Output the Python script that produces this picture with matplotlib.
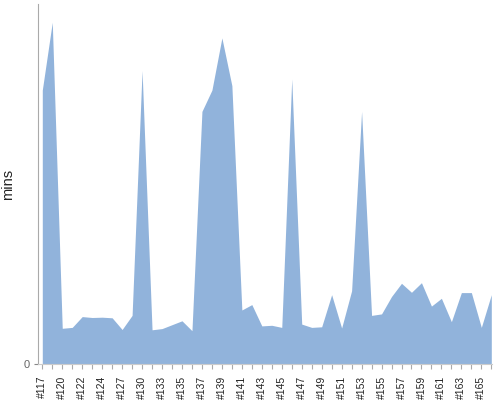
import matplotlib
matplotlib.use("Agg")
import matplotlib.pyplot as plt

# build ids shown on the x axis (only every other one gets a label)
builds = ["#117", "#118", "#120", "#121", "#122", "#123", "#124", "#126",
          "#127", "#128", "#130", "#131", "#133", "#134", "#135", "#136",
          "#137", "#138", "#139", "#140", "#141", "#142", "#143", "#144",
          "#145", "#146", "#147", "#148", "#149", "#150", "#151", "#152",
          "#153", "#154", "#155", "#156", "#157", "#158", "#159", "#160",
          "#161", "#162", "#163", "#164", "#165", "#166"]

# build duration, minutes
mins = [91.3, 113.9, 11.9, 12.2, 15.8, 15.5, 15.6, 15.4, 11.5, 16.2,
        97.8, 11.4, 11.8, 13.1, 14.4, 11.1, 84.2, 91.3, 108.7, 92.8,
        18.0, 19.8, 12.7, 12.9, 12.2, 95.0, 13.3, 12.2, 12.4, 23.1,
        12.0, 24.4, 84.2, 16.2, 16.7, 22.5, 26.9, 23.9, 27.1, 19.3,
        21.9, 14.1, 23.8, 23.8, 12.2, 23.1]

plt.rcParams['font.family'] = ['Liberation Sans', 'DejaVu Sans']

fig = plt.figure(figsize=(5, 4), dpi=100)
ax = fig.add_axes([0.0766, 0.09, 0.908, 0.9])

x = list(range(len(builds)))
ax.fill_between(x, mins, 0, color='#91b3db', linewidth=0)

ax.set_xlim(-0.4, len(builds) - 0.9)
ax.set_ylim(0, 120)

ax.set_xticks(x)
ax.set_xticklabels([b if i % 2 == 0 else "" for i, b in enumerate(builds)],
                   rotation=90, fontsize=7.5, color='#222222')
ax.set_yticks([0])
ax.set_yticklabels(["0"], fontsize=8, color='#666666')

ax.tick_params(axis='x', length=3.5, width=0.8, color='#aaaaaa', pad=5)
ax.tick_params(axis='y', length=3, width=0.8, color='#888888', pad=3)

for side in ['top', 'right']:
    ax.spines[side].set_visible(False)
ax.spines['left'].set_color('#aaaaaa')
ax.spines['bottom'].set_color('#cccccc')
ax.spines['left'].set_linewidth(0.8)
ax.spines['bottom'].set_linewidth(0.8)

# y label sits close to the left edge
fig.text(0.016, 0.54, "mins", rotation=90, fontsize=10.5, color='#222222',
         ha='center', va='center')

fig.savefig("out.png", dpi=100)
